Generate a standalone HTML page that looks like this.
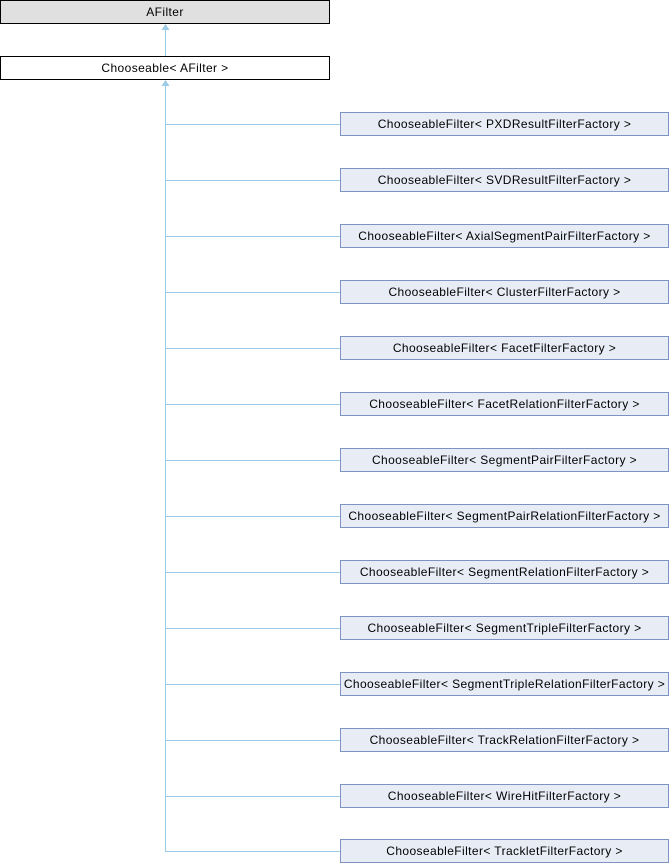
<!DOCTYPE html>
<html><head><style>body{margin:0;background:#fff}svg{display:block}text{font-family:"Liberation Sans",Arial,sans-serif;font-size:12px;fill:#000;letter-spacing:0.4px}.c{stroke:#9ccbe6}.b{fill:#e8ecf5;stroke:#7f93c3}</style></head>
<body>
<svg width="670" height="864" viewBox="0 0 670 864" xmlns="http://www.w3.org/2000/svg">
<rect x="0.5" y="0.5" width="329" height="23" fill="#e0e0e0" stroke="#000"/>
<text x="165" y="16" text-anchor="middle">AFilter</text>
<line class="c" x1="165.5" y1="56" x2="165.5" y2="28"/>
<polygon points="165.5,24 161.5,30 169.5,30" fill="#9ccbe6"/>
<rect x="0.5" y="56.5" width="329" height="23" fill="#fff" stroke="#000"/>
<text x="165" y="72" text-anchor="middle">Chooseable&lt; AFilter &gt;</text>
<line class="c" x1="165.5" y1="851" x2="165.5" y2="84"/>
<polygon points="165.5,80 161.5,86 169.5,86" fill="#9ccbe6"/>

<line class="c" x1="165" y1="124.5" x2="340" y2="124.5"/><rect class="b" x="340.5" y="112.5" width="328" height="23"/><text x="504.5" y="128" text-anchor="middle">ChooseableFilter&lt; PXDResultFilterFactory &gt;</text>
<line class="c" x1="165" y1="180.5" x2="340" y2="180.5"/><rect class="b" x="340.5" y="168.5" width="328" height="23"/><text x="504.5" y="184" text-anchor="middle">ChooseableFilter&lt; SVDResultFilterFactory &gt;</text>
<line class="c" x1="165" y1="236.5" x2="340" y2="236.5"/><rect class="b" x="340.5" y="224.5" width="328" height="23"/><text x="504.5" y="240" text-anchor="middle">ChooseableFilter&lt; AxialSegmentPairFilterFactory &gt;</text>
<line class="c" x1="165" y1="292.5" x2="340" y2="292.5"/><rect class="b" x="340.5" y="280.5" width="328" height="23"/><text x="504.5" y="296" text-anchor="middle">ChooseableFilter&lt; ClusterFilterFactory &gt;</text>
<line class="c" x1="165" y1="348.5" x2="340" y2="348.5"/><rect class="b" x="340.5" y="336.5" width="328" height="23"/><text x="504.5" y="352" text-anchor="middle">ChooseableFilter&lt; FacetFilterFactory &gt;</text>
<line class="c" x1="165" y1="404.5" x2="340" y2="404.5"/><rect class="b" x="340.5" y="392.5" width="328" height="23"/><text x="504.5" y="408" text-anchor="middle">ChooseableFilter&lt; FacetRelationFilterFactory &gt;</text>
<line class="c" x1="165" y1="460.5" x2="340" y2="460.5"/><rect class="b" x="340.5" y="448.5" width="328" height="23"/><text x="504.5" y="464" text-anchor="middle">ChooseableFilter&lt; SegmentPairFilterFactory &gt;</text>
<line class="c" x1="165" y1="516.5" x2="340" y2="516.5"/><rect class="b" x="340.5" y="504.5" width="328" height="23"/><text x="504.5" y="520" text-anchor="middle">ChooseableFilter&lt; SegmentPairRelationFilterFactory &gt;</text>
<line class="c" x1="165" y1="572.5" x2="340" y2="572.5"/><rect class="b" x="340.5" y="560.5" width="328" height="23"/><text x="504.5" y="576" text-anchor="middle">ChooseableFilter&lt; SegmentRelationFilterFactory &gt;</text>
<line class="c" x1="165" y1="628.5" x2="340" y2="628.5"/><rect class="b" x="340.5" y="616.5" width="328" height="23"/><text x="504.5" y="632" text-anchor="middle">ChooseableFilter&lt; SegmentTripleFilterFactory &gt;</text>
<line class="c" x1="165" y1="684.5" x2="340" y2="684.5"/><rect class="b" x="340.5" y="672.5" width="328" height="23"/><text x="504.5" y="688" text-anchor="middle">ChooseableFilter&lt; SegmentTripleRelationFilterFactory &gt;</text>
<line class="c" x1="165" y1="740.5" x2="340" y2="740.5"/><rect class="b" x="340.5" y="728.5" width="328" height="23"/><text x="504.5" y="744" text-anchor="middle">ChooseableFilter&lt; TrackRelationFilterFactory &gt;</text>
<line class="c" x1="165" y1="796.5" x2="340" y2="796.5"/><rect class="b" x="340.5" y="784.5" width="328" height="23"/><text x="504.5" y="800" text-anchor="middle">ChooseableFilter&lt; WireHitFilterFactory &gt;</text>
<line class="c" x1="165" y1="851.5" x2="340" y2="851.5"/><rect class="b" x="340.5" y="839.5" width="328" height="23"/><text x="504.5" y="855" text-anchor="middle">ChooseableFilter&lt; TrackletFilterFactory &gt;</text>
</svg>
</body></html>
